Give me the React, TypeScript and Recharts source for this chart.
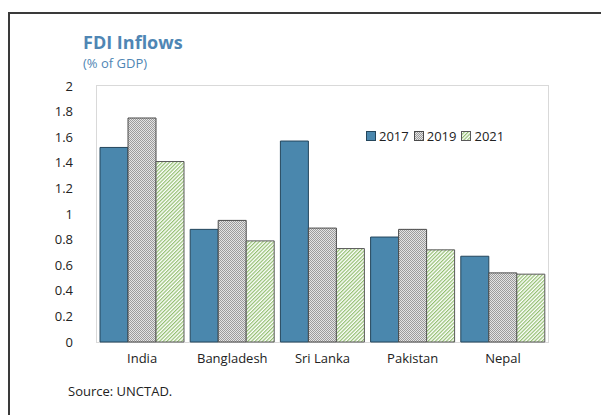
import { BarChart, Bar, XAxis, YAxis } from "recharts";

const countries = ["India", "Bangladesh", "Sri Lanka", "Pakistan", "Nepal"];
const fdi2017 = [1.52, 0.88, 1.57, 0.82, 0.67];
const fdi2019 = [1.75, 0.95, 0.89, 0.88, 0.54];
const fdi2021 = [1.41, 0.79, 0.73, 0.72, 0.53];
const yTicks = [0, 0.2, 0.4, 0.6, 0.8, 1, 1.2, 1.4, 1.6, 1.8, 2];

const data = countries.map((c, i) => ({
  country: c,
  y2017: fdi2017[i],
  y2019: fdi2019[i],
  y2021: fdi2021[i],
}));

const font = "'Open Sans', 'Noto Sans', sans-serif";
const blue = "#4a87ad";
const titleBlue = "#4f86b4";

const series = [
  { key: "y2017", name: "2017", fill: blue, stroke: "#24465c" },
  { key: "y2019", name: "2019", fill: "url(#dots2019)", stroke: "#4a4a4a" },
  { key: "y2021", name: "2021", fill: "url(#stripes2021)", stroke: "#5a5a5a" },
];

function PatternDefs() {
  return (
    <defs>
      <pattern id="dots2019" width="2" height="2" patternUnits="userSpaceOnUse">
        <rect width="2" height="2" fill="#e4e4e4" />
        <rect width="1" height="1" fill="#9c9c9c" />
        <rect x="1" y="1" width="1" height="1" fill="#9c9c9c" />
      </pattern>
      <pattern id="stripes2021" width="2.6" height="2.6" patternUnits="userSpaceOnUse" patternTransform="rotate(45)">
        <rect width="2.6" height="2.6" fill="#ffffff" />
        <rect width="1.2" height="2.6" fill="#93bf70" />
      </pattern>
    </defs>
  );
}

function LegendBox() {
  return (
    <div style={{ position: "absolute", left: 366, top: 127, display: "flex", alignItems: "center", fontSize: 13, color: "#222" }}>
      {series.map((s) => (
        <div key={s.key} style={{ display: "flex", alignItems: "center", marginRight: 5 }}>
          <svg width="10" height="10" style={{ marginRight: 3 }}>
            <rect x="0.5" y="0.5" width="9" height="9" fill={s.fill} stroke={s.stroke} strokeWidth={1} />
          </svg>
          <span>{s.name}</span>
        </div>
      ))}
    </div>
  );
}

export default function App() {
  return (
    <div style={{ position: "absolute", left: 0, top: 0, width: 601, height: 415, background: "#fff", overflow: "hidden", fontFamily: font }}>
      {/* outer frame */}
      <div style={{ position: "absolute", left: 8, top: 12, width: 620, height: 420, borderLeft: "2px solid #3a3a3a", borderTop: "2px solid #3a3a3a" }} />
      {/* plot area border */}
      <div style={{ position: "absolute", left: 96, top: 85, width: 451, height: 256, border: "1.5px solid #d9d9d9" }} />
      <div style={{ position: "absolute", left: 83, top: 30, fontSize: 18, fontWeight: 700, color: titleBlue }}>FDI Inflows</div>
      <div style={{ position: "absolute", left: 83, top: 54, fontSize: 13, color: titleBlue }}>(% of GDP)</div>
      <div style={{ position: "absolute", left: 68, top: 382, fontSize: 13, color: "#222" }}>Source: UNCTAD.</div>
      <div style={{ position: "absolute", left: 0, top: 0 }}>
        <BarChart
          width={601}
          height={415}
          data={data}
          margin={{ top: 86, right: 53, bottom: 0, left: 0 }}
          barCategoryGap={3}
          barGap={0}
        >
          <PatternDefs />
          <XAxis
            dataKey="country"
            height={73}
            axisLine={false}
            tickLine={false}
            tickMargin={6}
            tick={{ fill: "#222", fontSize: 13, fontFamily: font }}
          />
          <YAxis
            width={97}
            domain={[0, 2]}
            ticks={yTicks}
            axisLine={false}
            tickLine={false}
            tickMargin={18}
            interval={0}
            tick={{ fill: "#222", fontSize: 13, fontFamily: font }}
          />
          {series.map((s) => (
            <Bar
              key={s.key}
              dataKey={s.key}
              name={s.name}
              fill={s.fill}
              stroke={s.stroke}
              strokeWidth={1}
              isAnimationActive={false}
            />
          ))}
        </BarChart>
      </div>
      <LegendBox />
    </div>
  );
}
